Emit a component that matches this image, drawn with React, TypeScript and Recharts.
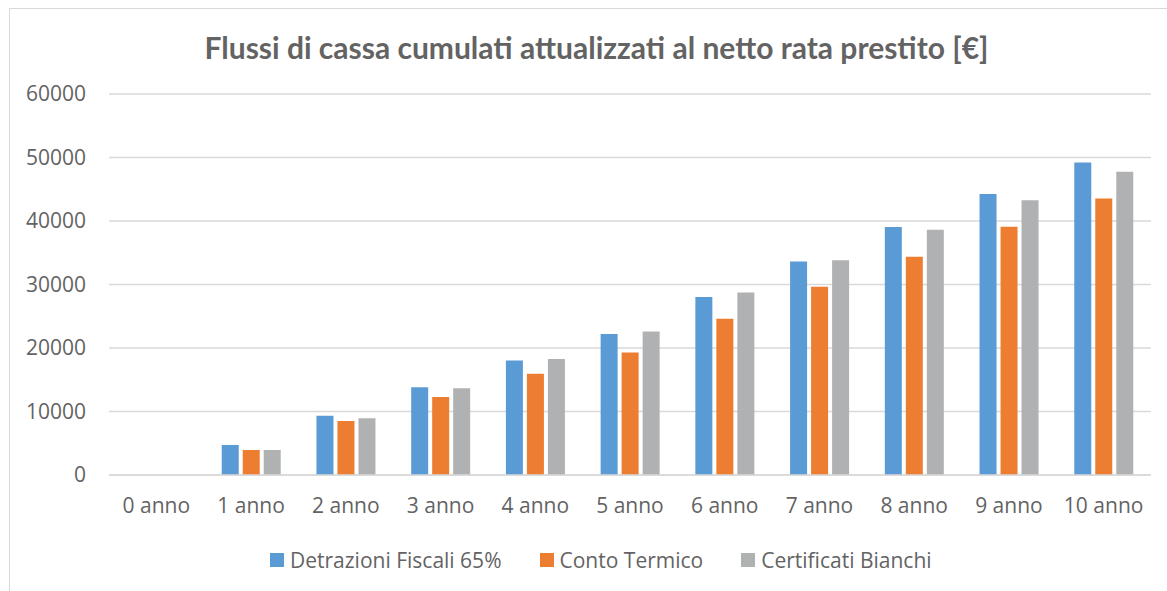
import React from 'react';
import { BarChart, Bar, XAxis, YAxis, CartesianGrid, Legend } from 'recharts';

const categories = ['0 anno', '1 anno', '2 anno', '3 anno', '4 anno', '5 anno', '6 anno', '7 anno', '8 anno', '9 anno', '10 anno'];
const detrazioni = [0, 4730, 9350, 13830, 18030, 22190, 28030, 33640, 39060, 44270, 49210];
const contoTermico = [0, 3940, 8520, 12300, 15930, 19290, 24600, 29650, 34380, 39110, 43530];
const certificati = [0, 3940, 8940, 13670, 18250, 22600, 28750, 33800, 38640, 43260, 47740];
const yTicks = [0, 10000, 20000, 30000, 40000, 50000, 60000];

const seriesInfo = [
  { key: 'detrazioni', name: 'Detrazioni Fiscali 65%', color: '#5B9BD5' },
  { key: 'conto', name: 'Conto Termico', color: '#ED7D31' },
  { key: 'certificati', name: 'Certificati Bianchi', color: '#B0B1B2' },
];

const data = categories.map((c, i) => ({
  name: c,
  detrazioni: detrazioni[i],
  conto: contoTermico[i],
  certificati: certificati[i],
}));

const FONT = '"Open Sans", sans-serif';
const TEXT = '#636363';

const LegendContent = () => (
  <div style={{ display: 'flex', alignItems: 'center', height: 30, fontFamily: FONT, fontSize: 21, color: TEXT, whiteSpace: 'nowrap' }}>
    {seriesInfo.map((s, i) => (
      <div key={s.key} style={{ display: 'flex', alignItems: 'center', marginRight: i < seriesInfo.length - 1 ? 38 : 0 }}>
        <span style={{ display: 'inline-block', width: 14, height: 14, background: s.color, marginRight: 6 }} />
        <span>{s.name}</span>
      </div>
    ))}
  </div>
);

export default function App() {
  return (
    <div style={{ position: 'absolute', left: 0, top: 0, width: 1167, height: 591, overflow: 'hidden', background: '#fff' }}>
      <div style={{ position: 'absolute', left: 9, top: 8, width: 1300, height: 800, border: '1.5px solid #D9D9D9', boxSizing: 'border-box' }} />
      <div style={{ position: 'absolute', left: 0, top: 27, width: 1193, textAlign: 'center', fontFamily: 'Lato, sans-serif', fontWeight: 700, fontSize: 30, color: TEXT, lineHeight: '40px' }}>
        Flussi di cassa cumulati attualizzati al netto rata prestito [€]
      </div>
      <div style={{ position: 'absolute', left: 0, top: 0 }}>
        <BarChart width={1167} height={591} data={data} margin={{ top: 94, right: 16, bottom: 16, left: 0 }} barSize={17} barGap={4}>
          <CartesianGrid vertical={false} stroke="#D9D9D9" strokeWidth={1.3} />
          <XAxis dataKey="name" height={70} tickLine={false} axisLine={{ stroke: '#D9D9D9', strokeWidth: 1.3 }} tickMargin={17} tick={{ fill: TEXT, fontFamily: FONT, fontSize: 21 }} interval={0} />
          <YAxis width={109} domain={[0, 60000]} ticks={yTicks} axisLine={false} tickLine={false} tickMargin={17} tick={{ fill: TEXT, fontFamily: FONT, fontSize: 21 }} />
          <Legend verticalAlign="bottom" content={<LegendContent />} wrapperStyle={{ left: 270, width: 720 }} />
          {seriesInfo.map((s) => (
            <Bar key={s.key} dataKey={s.key} name={s.name} fill={s.color} isAnimationActive={false} />
          ))}
        </BarChart>
      </div>
    </div>
  );
}
